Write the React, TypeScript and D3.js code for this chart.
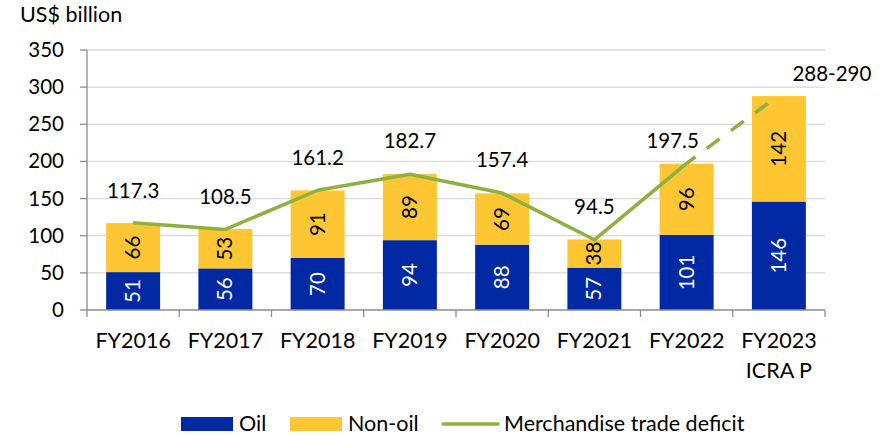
import React, { useRef, useEffect } from "react"
import * as d3 from "d3"

// chart data
const years = ["FY2016", "FY2017", "FY2018", "FY2019", "FY2020", "FY2021", "FY2022", "FY2023"]
const yearSub = ["", "", "", "", "", "", "", "ICRA P"]
const oil = [51, 56, 70, 94, 88, 57, 101, 146]
const nonOil = [66, 53, 91, 89, 69, 38, 96, 142]
const deficit = [117.3, 108.5, 161.2, 182.7, 157.4, 94.5, 197.5, 289]
const deficitLabels = ["117.3", "108.5", "161.2", "182.7", "157.4", "94.5", "197.5", "288-290"]
const yTicks = [0, 50, 100, 150, 200, 250, 300, 350]

// label nudges (dx, dy from the line point), only a couple are off the default
const labelNudge: [number, number][] = [
  [0, -25], [0, -25], [0, -25], [0, -26], [0, -26], [0, -26], [-14, -15], [53, -14],
]

const W = 887
const H = 436
const FONT = "Lato, 'Noto Sans', sans-serif"
const NUM = 20.5 // numbers
const TXT = 21.5 // words

const App = () => {
  const ref = useRef<SVGSVGElement>(null)

  useEffect(() => {
    const svg = d3.select(ref.current)
    svg.selectAll("*").remove()

    const x = d3.scaleBand().domain(years).range([87, 825]).paddingInner(0.415).paddingOuter(0.2075)
    const y = d3.scaleLinear().domain([0, 350]).range([310, 50])
    const step = x.step()
    const cx = (d: string) => (x(d) as number) + x.bandwidth() / 2

    // gridlines
    svg.append("g").selectAll("line").data(yTicks.slice(1)).enter().append("line")
      .attr("x1", 87).attr("x2", 825)
      .attr("y1", d => y(d)).attr("y2", d => y(d))
      .attr("stroke", "#d9d9d9").attr("stroke-width", 1.3)

    // y axis
    const ya = svg.append("g").attr("stroke", "#8c8c8c").attr("stroke-width", 1.3)
    ya.append("line").attr("x1", 87).attr("x2", 87).attr("y1", y(350)).attr("y2", y(0))
    ya.selectAll("line.t").data(yTicks).enter().append("line").attr("class", "t")
      .attr("x1", 80).attr("x2", 87).attr("y1", d => y(d)).attr("y2", d => y(d))
    svg.append("g").selectAll("text").data(yTicks).enter().append("text")
      .attr("x", 64).attr("y", d => y(d) + 7).attr("text-anchor", "end")
      .attr("font-family", FONT).attr("font-size", NUM).attr("fill", "#000")
      .text(d => d)

    // bars
    const bars = svg.append("g")
    bars.selectAll("rect.oil").data(years).enter().append("rect").attr("class", "oil")
      .attr("x", d => x(d) as number).attr("width", x.bandwidth())
      .attr("y", (d, i) => y(oil[i])).attr("height", (d, i) => y(0) - y(oil[i]))
      .attr("fill", "#0029a3")
    bars.selectAll("rect.non").data(years).enter().append("rect").attr("class", "non")
      .attr("x", d => x(d) as number).attr("width", x.bandwidth())
      .attr("y", (d, i) => y(oil[i] + nonOil[i])).attr("height", (d, i) => y(oil[i]) - y(oil[i] + nonOil[i]))
      .attr("fill", "#ffc633")

    // bar values (rotated)
    const segLabel = (vals: number[], base: number[], color: string) => {
      svg.append("g").selectAll("text").data(years).enter().append("text")
        .attr("transform", (d, i) => `translate(${cx(d) + 7},${y(base[i] + vals[i] / 2)}) rotate(-90)`)
        .attr("text-anchor", "middle")
        .attr("font-family", FONT).attr("font-size", NUM).attr("fill", color)
        .text((d, i) => vals[i])
    }
    segLabel(oil, years.map(() => 0), "#ffffff")
    segLabel(nonOil, oil, "#000000")

    // x axis
    const xa = svg.append("g").attr("stroke", "#8c8c8c").attr("stroke-width", 1.3)
    xa.append("line").attr("x1", 87).attr("x2", 825).attr("y1", y(0)).attr("y2", y(0))
    xa.selectAll("line.t").data(d3.range(years.length + 1)).enter().append("line").attr("class", "t")
      .attr("x1", i => 87 + i * step).attr("x2", i => 87 + i * step)
      .attr("y1", y(0)).attr("y2", y(0) + 7)
    const xl = svg.append("g").attr("font-family", FONT).attr("font-size", TXT).attr("text-anchor", "middle")
    xl.selectAll("text.a").data(years).enter().append("text").attr("class", "a")
      .attr("x", d => cx(d)).attr("y", 348).text(d => d)
    xl.selectAll("text.b").data(years).enter().append("text").attr("class", "b")
      .attr("x", d => cx(d)).attr("y", 378).text((d, i) => yearSub[i])

    // deficit line: solid for actuals, dashed for the projection
    const line = d3.line<number>().x((d, i) => cx(years[i])).y(d => y(d))
    const n = years.length
    svg.append("path").datum(deficit.slice(0, n - 1)).attr("d", line)
      .attr("fill", "none").attr("stroke", "#8db03f").attr("stroke-width", 3.5).attr("stroke-linejoin", "round")
    const proj = d3.line<number>().x((d, i) => cx(years[n - 2 + i])).y(d => y(d))
    svg.append("path").datum(deficit.slice(n - 2)).attr("d", proj)
      .attr("fill", "none").attr("stroke", "#8db03f").attr("stroke-width", 3.5)
      .attr("stroke-dasharray", "16,14").attr("stroke-dashoffset", 5)

    svg.append("g").selectAll("text").data(years).enter().append("text")
      .attr("x", (d, i) => cx(d) + labelNudge[i][0]).attr("y", (d, i) => y(deficit[i]) + labelNudge[i][1])
      .attr("text-anchor", "middle").attr("font-family", FONT).attr("font-size", NUM)
      .text((d, i) => deficitLabels[i])

    // axis title
    svg.append("text").attr("x", 20).attr("y", 22).attr("font-family", FONT).attr("font-size", TXT)
      .text("US$ billion")

    // legend
    const lg = svg.append("g").attr("font-family", FONT).attr("font-size", TXT)
    lg.append("rect").attr("x", 181).attr("y", 417).attr("width", 52).attr("height", 14).attr("fill", "#0029a3")
    lg.append("text").attr("x", 239).attr("y", 431).text("Oil")
    lg.append("rect").attr("x", 290).attr("y", 417).attr("width", 52).attr("height", 14).attr("fill", "#ffc633")
    lg.append("text").attr("x", 348).attr("y", 431).text("Non-oil")
    lg.append("line").attr("x1", 443).attr("x2", 498).attr("y1", 424).attr("y2", 424)
      .attr("stroke", "#8db03f").attr("stroke-width", 3.5).attr("stroke-linecap", "round")
    lg.append("text").attr("x", 504).attr("y", 431).text("Merchandise trade deficit")
  }, [])

  return (
    <svg ref={ref} width={W} height={H} style={{ display: "block", position: "absolute", left: 0, top: 0, background: "#fff" }} />
  )
}

export default App
